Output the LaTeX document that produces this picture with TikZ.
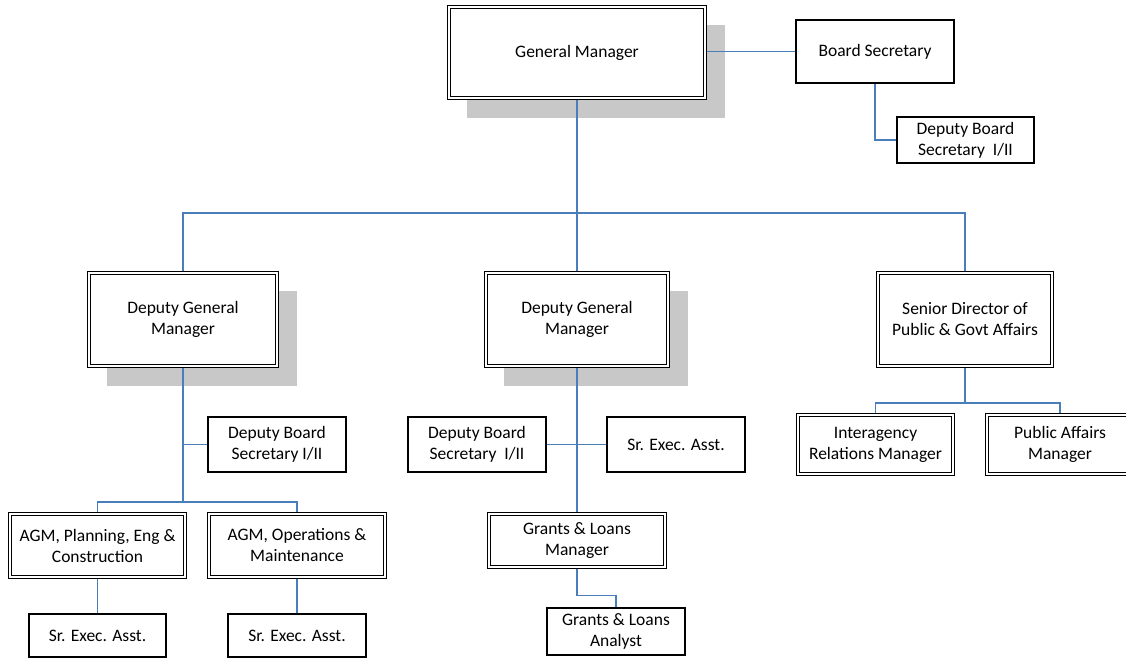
\documentclass[tikz,border=0pt]{standalone}
\usepackage{fontspec}
\setmainfont{Carlito}
\usetikzlibrary{backgrounds}
\definecolor{linkblue}{RGB}{74,126,187}
\definecolor{shadowgray}{RGB}{200,200,200}
\begin{document}
\begin{tikzpicture}[x=1pt,y=-1pt,
  every node/.style={font=\fontsize{17.5}{21}\selectfont, align=center, inner sep=0pt},
  sbox/.style={draw=black, line width=1.4pt, fill=white, minimum width=#1},
  dbox/.style={draw=black, line width=1.2pt, double=white, double distance=1.5pt, fill=white, minimum width=#1},
  link/.style={draw=linkblue, line width=1.4pt},
  shadow/.style={fill=shadowgray}]
\clip (0,0) rectangle (1126,660);

% top level
\node[dbox=256, minimum height=91] (gm) at (577,52.5) {General Manager};
\node[sbox=158, minimum height=63] (bs) at (875,51.5) {Board Secretary};
\node[sbox=137, minimum height=46] (dbst) at (965.5,140) {Deputy Board\\Secretary~~I/II};

% second level
\node[dbox=188, minimum height=93] (dgma) at (183,319.5) {Deputy General\\Manager};
\node[dbox=182, minimum height=93] (dgmb) at (577,319.5) {Deputy General\\Manager};
\node[dbox=174, minimum height=93] (sd) at (965,319.5) {Senior Director of\\Public \& Govt Affairs};

% left branch
\node[sbox=138, minimum height=55] (dbsl) at (277,444.5) {Deputy Board\\Secretary I/II};
\node[dbox=175, minimum height=63] (agma) at (97.5,545.5) {AGM, Planning, Eng \&\\Construction};
\node[dbox=176, minimum height=63] (agmb) at (297,545.5) {AGM, Operations \&\\Maintenance};
\node[sbox=137, minimum height=43] (sra) at (97.5,635.5) {Sr. Exec. Asst.};
\node[sbox=138, minimum height=43] (srb) at (297,635.5) {Sr. Exec. Asst.};

% middle branch
\node[sbox=138, minimum height=55] (dbsm) at (477,444.5) {Deputy Board\\Secretary~~I/II};
\node[sbox=138, minimum height=55] (srm) at (676,444.5) {Sr. Exec. Asst.};
\node[dbox=176, minimum height=53] (glm) at (577,540.5) {Grants \& Loans\\Manager};
\node[sbox=138, minimum height=47] (gla) at (616,631.5) {Grants \& Loans\\Analyst};

% right branch
\node[dbox=155, minimum height=59] (irm) at (875.5,444.5) {Interagency\\Relations Manager};
\node[dbox=146, minimum height=59] (pam) at (1060,444.5) {Public Affairs\\Manager};

\coordinate (topbar) at (577,213);
\coordinate (leftbar) at (183,502);
\coordinate (rightbar) at (965,403);

\begin{scope}[on background layer]
  \fill[white] (0,0) rectangle (1126,660);
  % drop shadows of the manager boxes
  \foreach \n in {gm,dgma,dgmb}
    \fill[shadow] ([shift={(19,19)}]\n.north west) rectangle ([shift={(19,19)}]\n.south east);
  % connectors
  \draw[link] (bs.west) -- (bs.west -| gm.east);
  \draw[link] (bs.south) |- (dbst.west);
  \draw[link] (gm.south) -- (dgmb.north);
  \draw[link] (dgma.north) |- (sd.north |- topbar) -- (sd.north);
  \draw[link] (dgma.south) -- (leftbar);
  \draw[link] (dbsl.west) -- (dbsl.west -| dgma.south);
  \draw[link] (agma.north) |- (agmb.north |- leftbar) -- (agmb.north);
  \draw[link] (agma.south) -- (sra.north);
  \draw[link] (agmb.south) -- (srb.north);
  \draw[link] (dgmb.south) -- (glm.north);
  \draw[link] (dbsm.east) -- (srm.west);
  \draw[link] (glm.south) -- ++(0,28) -| (gla.north);
  \draw[link] (sd.south) -- (rightbar);
  \draw[link] (irm.north) |- (pam.north |- rightbar) -- (pam.north);
\end{scope}
\end{tikzpicture}
\end{document}
